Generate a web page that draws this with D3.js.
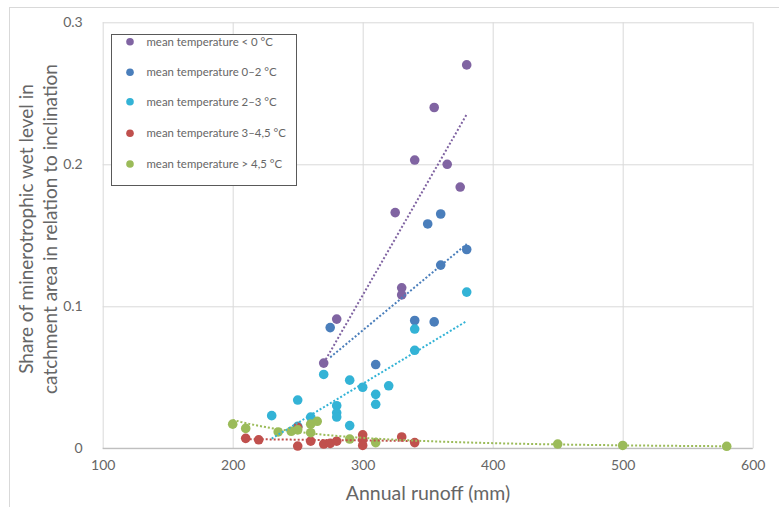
<!DOCTYPE html>
<html>
<head>
<meta charset="utf-8">
<script src="https://cdn.jsdelivr.net/npm/d3@7"></script>
<style>
  body { margin: 0; background: #fff; }
  text { font-family: Lato, "Open Sans", sans-serif; }
</style>
</head>
<body>
<div id="chart"></div>
<script>
const W = 779, H = 507;
const margin = { top: 22.3, right: 26.3, bottom: 58.7, left: 102.7 };
const width = W - margin.left - margin.right;
const height = H - margin.top - margin.bottom;

// data: [annual runoff (mm), share]
const seriesNames = [
    "mean temperature < 0 °C",
    "mean temperature 0–2 °C",
    "mean temperature 2–3 °C",
    "mean temperature 3–4,5 °C",
    "mean temperature > 4,5 °C"
];
const seriesColors = ["#8064a2", "#4a7ebb", "#33b3d6", "#c0504d", "#9bbb59"];

const below0 = [[270, 0.060], [280, 0.091], [325, 0.166], [330, 0.113], [330, 0.108],
    [340, 0.203], [355, 0.240], [365, 0.200], [375, 0.184], [380, 0.270]];
const temp0to2 = [[275, 0.085], [310, 0.059], [340, 0.090], [350, 0.158], [355, 0.089],
    [360, 0.129], [360, 0.165], [380, 0.140]];
const temp2to3 = [[230, 0.023], [250, 0.034], [250, 0.0155], [260, 0.022], [270, 0.052],
    [280, 0.030], [280, 0.025], [280, 0.022], [290, 0.048], [290, 0.016], [300, 0.043],
    [310, 0.038], [310, 0.031], [320, 0.044], [340, 0.084], [340, 0.069], [380, 0.110]];
const temp3to45 = [[210, 0.007], [220, 0.006], [250, 0.0016], [250, 0.0148], [260, 0.005],
    [270, 0.003], [275, 0.0035], [280, 0.005], [300, 0.0095], [300, 0.006], [300, 0.002],
    [330, 0.008], [340, 0.004]];
const above45 = [[200, 0.017], [210, 0.014], [235, 0.0115], [245, 0.012], [250, 0.013],
    [260, 0.017], [260, 0.011], [265, 0.019], [290, 0.0065], [310, 0.004],
    [450, 0.003], [500, 0.002], [580, 0.0014]];

const allSeries = [below0, temp0to2, temp2to3, temp3to45, above45];
const trendTypes = ["linear", "linear", "linear", "linear", "power"];

const xTicks = [100, 200, 300, 400, 500, 600];
const yTicks = [0, 0.1, 0.2, 0.3];

const svg = d3.select("#chart").append("svg")
    .attr("width", W)
    .attr("height", H);

// outer chart frame
svg.append("rect")
    .attr("x", 9.5).attr("y", 7.5)
    .attr("width", W - 9).attr("height", H)
    .attr("fill", "none")
    .attr("stroke", "#d9d9d9");

const g = svg.append("g")
    .attr("transform", `translate(${margin.left},${margin.top})`);

const x = d3.scaleLinear().domain([100, 600]).range([0, width]);
const y = d3.scaleLinear().domain([0, 0.3]).range([height, 0]);

// gridlines
g.append("g")
    .call(d3.axisLeft(y).tickValues(yTicks).tickSize(-width).tickFormat(""))
    .call(a => a.select(".domain").remove())
    .selectAll("line").attr("stroke", "#d9d9d9");

g.append("g")
    .attr("transform", `translate(0,${height})`)
    .call(d3.axisBottom(x).tickValues(xTicks).tickSize(-height).tickFormat(""))
    .call(a => a.select(".domain").remove())
    .selectAll("line").attr("stroke", "#d9d9d9");

// bottom axis line
g.append("line")
    .attr("x1", 0).attr("x2", width)
    .attr("y1", height).attr("y2", height)
    .attr("stroke", "#bfbfbf")
    .attr("stroke-width", 1.3);

// tick labels
const yAxis = g.append("g")
    .call(d3.axisLeft(y).tickValues(yTicks).tickSize(0).tickPadding(20)
        .tickFormat(d => d === 0 ? "0" : d3.format(".1f")(d)));
yAxis.select(".domain").remove();
yAxis.selectAll("text")
    .style("font-size", "14px")
    .style("font-family", "Lato, sans-serif")
    .attr("fill", "#666");

const xAxis = g.append("g")
    .attr("transform", `translate(0,${height})`)
    .call(d3.axisBottom(x).tickValues(xTicks).tickSize(0).tickPadding(12));
xAxis.select(".domain").remove();
xAxis.selectAll("text")
    .style("font-size", "14px")
    .style("font-family", "Lato, sans-serif")
    .attr("fill", "#666");

// axis titles
svg.append("text")
    .attr("x", 428)
    .attr("y", 500)
    .attr("text-anchor", "middle")
    .attr("fill", "#666")
    .style("font-size", "19.5px")
    .text("Annual runoff (mm)");

const yTitle = svg.append("text")
    .attr("transform", "translate(0,229) rotate(-90)")
    .attr("text-anchor", "middle")
    .attr("fill", "#666")
    .style("font-size", "19px");
yTitle.append("tspan").attr("x", 0).attr("y", 33).text("Share of minerotrophic wet level in");
yTitle.append("tspan").attr("x", 0).attr("y", 57).text("catchment area in relation to inclination");

// markers
allSeries.forEach((pts, i) => {
    g.append("g").selectAll("circle")
        .data(pts)
        .enter()
        .append("circle")
        .attr("cx", d => x(d[0]))
        .attr("cy", d => y(d[1]))
        .attr("r", 4.8)
        .attr("fill", seriesColors[i]);
});

// trendlines (least squares, like the spreadsheet does)
function fitLinear(pts) {
    const mx = d3.mean(pts, d => d[0]), my = d3.mean(pts, d => d[1]);
    const b = d3.sum(pts, d => (d[0] - mx) * (d[1] - my)) / d3.sum(pts, d => (d[0] - mx) ** 2);
    return v => my + b * (v - mx);
}
function fitPower(pts) {
    const lp = pts.map(d => [Math.log(d[0]), Math.log(d[1])]);
    const f = fitLinear(lp);
    return v => Math.exp(f(Math.log(v)));
}

const trendLine = d3.line().x(d => x(d[0])).y(d => y(d[1]));

allSeries.forEach((pts, i) => {
    const f = trendTypes[i] === "power" ? fitPower(pts) : fitLinear(pts);
    const [x0, x1] = d3.extent(pts, d => d[0]);
    const xs = d3.range(0, 61).map(k => x0 + (x1 - x0) * k / 60);
    g.append("path")
        .datum(xs.map(v => [v, f(v)]))
        .attr("d", trendLine)
        .attr("fill", "none")
        .attr("stroke", seriesColors[i])
        .attr("stroke-width", 2)
        .attr("stroke-dasharray", "2,2");
});

// legend
const legend = svg.append("g").attr("transform", "translate(111.5,34.5)");
legend.append("rect")
    .attr("width", 185)
    .attr("height", 151)
    .attr("fill", "#fff")
    .attr("stroke", "#595959")
    .attr("stroke-width", 1);

const rowY = [7.2, 37.8, 67.2, 98.8, 129.5];
seriesNames.forEach((name, i) => {
    legend.append("circle")
        .attr("cx", 18.5)
        .attr("cy", rowY[i])
        .attr("r", 3.8)
        .attr("fill", seriesColors[i]);
    legend.append("text")
        .attr("x", 35)
        .attr("y", rowY[i])
        .attr("dy", "0.35em")
        .attr("fill", "#666")
        .style("font-size", "11.4px")
        .text(name);
});
</script>
</body>
</html>
